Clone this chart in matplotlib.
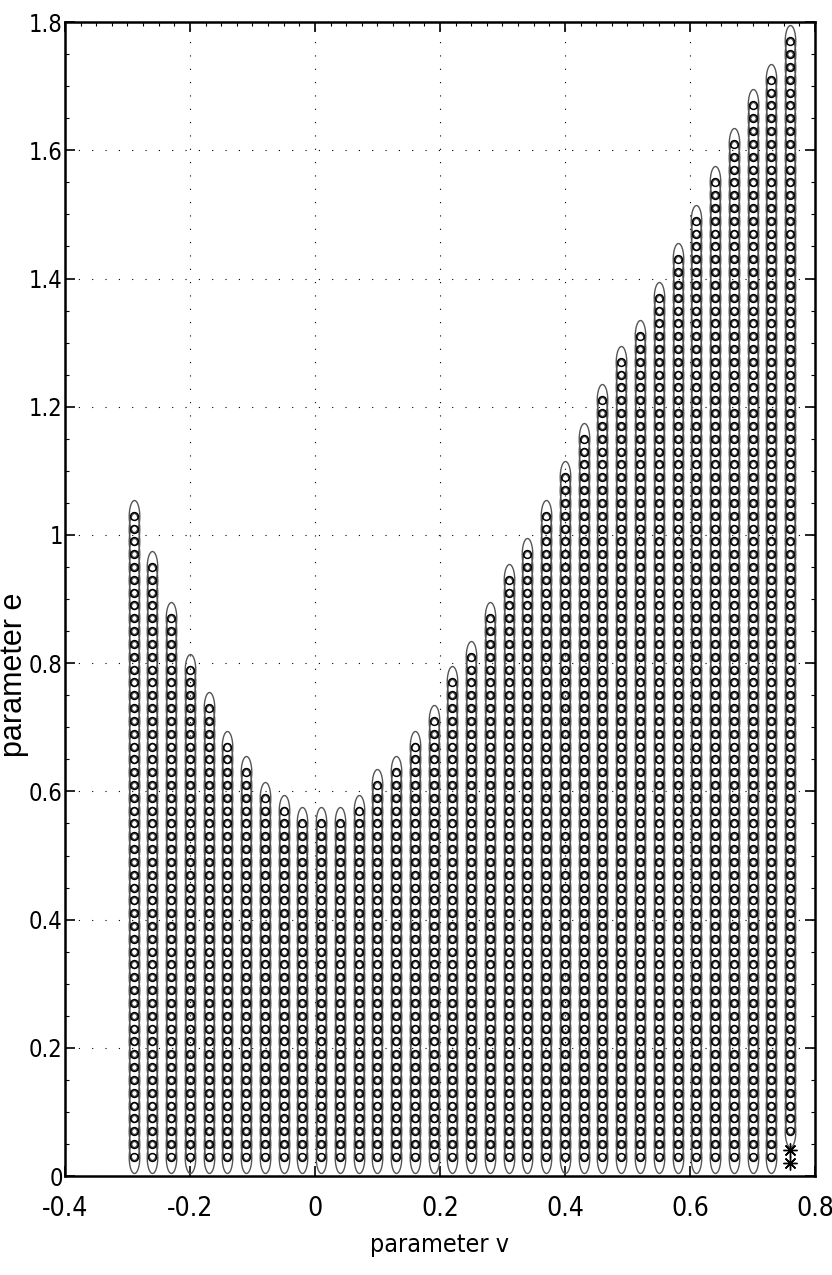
import numpy as np
import matplotlib
matplotlib.use("Agg")
import matplotlib.pyplot as plt
from matplotlib.path import Path
from matplotlib.ticker import MultipleLocator

# column positions (parameter v) and the highest e value drawn in each column
v_cols = [-0.29, -0.26, -0.23, -0.20, -0.17, -0.14, -0.11, -0.08, -0.05, -0.02,
          0.01, 0.04, 0.07, 0.10, 0.13, 0.16, 0.19, 0.22, 0.25, 0.28,
          0.31, 0.34, 0.37, 0.40, 0.43, 0.46, 0.49, 0.52, 0.55, 0.58,
          0.61, 0.64, 0.67, 0.70, 0.73, 0.76]
e_top = [1.03, 0.95, 0.87, 0.79, 0.73, 0.67, 0.63, 0.59, 0.57, 0.55,
         0.55, 0.55, 0.57, 0.61, 0.63, 0.67, 0.71, 0.77, 0.81, 0.87,
         0.93, 0.97, 1.03, 1.09, 1.15, 1.21, 1.27, 1.31, 1.37, 1.43,
         1.49, 1.55, 1.61, 1.67, 1.71, 1.77]
e_bottom = [0.03] * 35 + [0.07]
e_step = 0.02

# the two starred points at the foot of the last column
star_v = [0.76, 0.76]
star_e = [0.04, 0.02]

xticks = [-0.4, -0.2, 0, 0.2, 0.4, 0.6, 0.8]
xticklabels = ["-0.4", "-0.2", "0", "0.2", "0.4", "0.6", "0.8"]
yticks = [0, 0.2, 0.4, 0.6, 0.8, 1.0, 1.2, 1.4, 1.6, 1.8]
yticklabels = ["0", "0.2", "0.4", "0.6", "0.8", "1", "1.2", "1.4", "1.6", "1.8"]

pts_v, pts_e = [], []
for v, lo, hi in zip(v_cols, e_bottom, e_top):
    col = np.arange(lo, hi + e_step / 2, e_step)
    pts_v.extend([v] * len(col))
    pts_e.extend(col)

# tall ellipse marker
t = np.linspace(0, 2 * np.pi, 60)
ellipse = Path(np.column_stack([0.165 * np.cos(t), 0.5 * np.sin(t)]), closed=True)

narrow = dict(family=["DejaVu Sans"], fontstretch="condensed")

fig = plt.figure(figsize=(8.32, 12.75), dpi=100)
ax = fig.add_axes([0.078, 0.0776, 0.9016, 0.9051])

ax.plot(pts_v, pts_e, linestyle="none", marker=ellipse, markersize=23,
        markerfacecolor="none", markeredgecolor="#555555", markeredgewidth=1.0)
ax.plot(pts_v, pts_e, linestyle="none", marker="o", markersize=5.6,
        markerfacecolor="none", markeredgecolor="black", markeredgewidth=1.1)
ax.plot(star_v, star_e, linestyle="none", marker=(8, 2, 0), markersize=10,
        color="black", markeredgewidth=1.0)

ax.set_xlim(-0.4, 0.8)
ax.set_ylim(0, 1.8)
ax.set_xticks(xticks)
ax.set_xticklabels(xticklabels, fontsize=19, **narrow)
ax.set_yticks(yticks)
ax.set_yticklabels(yticklabels, fontsize=17, **narrow)
ax.yaxis.set_minor_locator(MultipleLocator(0.05))
ax.xaxis.set_minor_locator(MultipleLocator(0.025))

ax.grid(True, which="major", color="black", linestyle=(0, (1, 11)), linewidth=0.8)
ax.tick_params(which="major", direction="in", length=7, width=1.2,
               top=True, right=True)
ax.tick_params(axis="x", which="major", pad=14)
ax.tick_params(axis="y", which="major", pad=1.5)
ax.tick_params(axis="y", which="minor", direction="in", length=3, width=0.8,
               left=True, right=True)
ax.tick_params(axis="x", which="minor", direction="in", length=3, width=0.8,
               bottom=False, top=True)
for s in ax.spines.values():
    s.set_linewidth(1.8)

ax.set_xlabel("parameter v", fontsize=18, labelpad=8, **narrow)
ax.set_ylabel("parameter e", family=["Liberation Sans", "DejaVu Sans"],
              fontsize=22)
ax.yaxis.set_label_coords(-0.0477, 0.434)

fig.savefig("out.png", dpi=100)
